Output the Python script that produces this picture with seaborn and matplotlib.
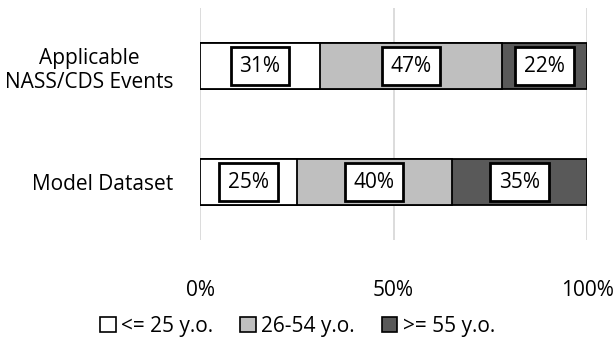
import matplotlib
matplotlib.use("Agg")
import matplotlib.pyplot as plt
from matplotlib.patches import Patch
import seaborn as sns
import pandas as pd
import numpy as np

categories = ["Applicable\nNASS/CDS Events", "Model Dataset"]
series_names = ["<= 25 y.o.", "26-54 y.o.", ">= 55 y.o."]
young = [31, 25]
middle = [47, 40]
old = [22, 35]
colors = ["#FFFFFF", "#BFBFBF", "#595959"]
xtick_labels = ["0%", "50%", "100%"]

sns.set_theme(style="white")
plt.rcParams["font.family"] = ["Open Sans", "DejaVu Sans"]
plt.rcParams["text.color"] = "black"
plt.rcParams["xtick.color"] = "black"
plt.rcParams["ytick.color"] = "black"
FS = 15

series = [young, middle, old]
cum = np.cumsum(np.array(series, dtype=float), axis=0)

fig = plt.figure(figsize=(6.16, 3.41), dpi=100)
ax = fig.add_axes([0.3247, 0.2962, 0.953 - 0.3247, 0.9765 - 0.2962])

for i in range(len(series) - 1, -1, -1):
    df = pd.DataFrame({"cat": categories, "val": cum[i]})
    sns.barplot(data=df, x="val", y="cat", orient="h", color=colors[i],
                edgecolor="black", linewidth=1.3, width=0.405, ax=ax,
                saturation=1, zorder=2)

for j, cat in enumerate(categories):
    start = 0.0
    for i in range(len(series)):
        v = series[i][j]
        ax.text(start + v / 2, j, f"{v}%", ha="center", va="center",
                fontsize=FS, color="black", zorder=5,
                bbox=dict(boxstyle="square,pad=0.42", facecolor="white",
                          edgecolor="black", linewidth=2))
        start += v

ax.set_xlim(0, 100)
ax.set_ylim(1.5, -0.5)
ax.set_xticks([0, 50, 100])
ax.set_xticklabels(xtick_labels, fontsize=FS, color="black")
ax.set_yticks([0, 1])
ax.set_yticklabels(categories, fontsize=FS, ha="right", multialignment="center",
                   color="black")
ax.tick_params(axis="y", pad=19, length=0)
ax.tick_params(axis="x", pad=29, length=0)
ax.set_xlabel("")
ax.set_ylabel("")
ax.grid(axis="x", color="#D9D9D9", linewidth=1.3, zorder=0)
ax.set_axisbelow(True)
for s in ax.spines.values():
    s.set_visible(False)

handles = [Patch(facecolor=c, edgecolor="black", linewidth=1.2) for c in colors]
leg = fig.legend(handles, series_names, loc="center", bbox_to_anchor=(0.483, 0.043),
                 ncol=3, frameon=False, fontsize=FS, handlelength=0.75,
                 handleheight=0.75, handletextpad=0.25, columnspacing=1.3)
for t in leg.get_texts():
    t.set_color("black")

fig.savefig("out.png", dpi=100)
